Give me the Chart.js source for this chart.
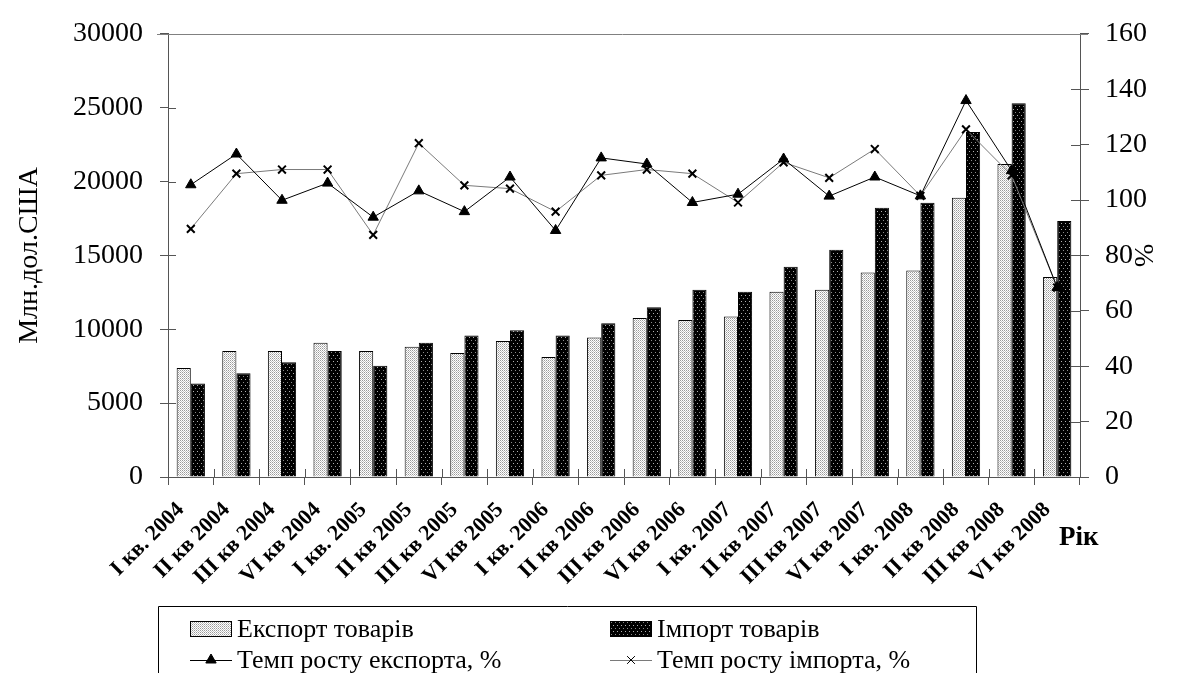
<!DOCTYPE html>
<html>
<head>
<meta charset="utf-8">
<style>
  html, body { margin: 0; padding: 0; background: #fff; }
  #wrap { position: relative; width: 1195px; height: 673px; }
</style>
<script src="https://cdn.jsdelivr.net/npm/chart.js@4.4.1/dist/chart.umd.min.js"></script>
</head>
<body>
<div id="wrap"><canvas id="c" width="1195" height="673"></canvas></div>
<script>
// Quarterly foreign trade in goods, 2004–2008
const quarters = [
  'I кв. 2004', 'II кв 2004', 'III кв 2004', 'VI кв 2004',
  'I кв. 2005', 'II кв 2005', 'III кв 2005', 'VI кв 2005',
  'I кв. 2006', 'II кв 2006', 'III кв 2006', 'VI кв 2006',
  'I кв. 2007', 'II кв 2007', 'III кв 2007', 'VI кв 2007',
  'I кв. 2008', 'II кв 2008', 'III кв 2008', 'VI кв 2008'
];
// Million US dollars
const exportGoods = [7370, 8530, 8530, 9090, 8530, 8820, 8400, 9200, 8130, 9440,
                     10760, 10620, 10870, 12540, 12670, 13850, 13980, 18910, 21180, 13540];
const importGoods = [6330, 7015, 7770, 8530, 7530, 9090, 9575, 9930, 9575, 10400,
                     11490, 12670, 12540, 14230, 15390, 18220, 18570, 23360, 25300, 17330];
// Growth rates, %
const exportGrowth = [105.5, 116.6, 99.9, 106.1, 93.8, 103.3, 95.8, 108.3, 89.0, 115.2,
                      113.0, 99.1, 102.1, 114.8, 101.4, 108.3, 101.5, 135.9, 110.6, 68.4];
const importGrowth = [89.6, 109.5, 111.0, 111.0, 87.4, 120.5, 105.3, 104.1, 95.8, 108.9,
                      111.0, 109.5, 99.1, 113.6, 108.0, 118.4, 101.5, 125.5, 108.9, 68.4];

const leftTicks = { min: 0, max: 30000, step: 5000 };
const rightTicks = { min: 0, max: 160, step: 20 };

const seriesNames = ['Експорт товарів', 'Імпорт товарів',
                     'Темп росту експорта, %', 'Темп росту імпорта, %'];
const leftTitle = 'Млн.дол.США';
const rightTitle = '%';
const xTitle = 'Рік';

const SERIF = '"Liberation Serif", "Times New Roman", serif';
const AXIS = '#555';

// Stipple fills for the bars
function makePattern(w, h, bg, dots) {
  const cv = document.createElement('canvas');
  cv.width = w; cv.height = h;
  const g = cv.getContext('2d');
  g.fillStyle = bg; g.fillRect(0, 0, w, h);
  dots.forEach(d => { g.fillStyle = d[2]; g.fillRect(d[0], d[1], 1, 1); });
  return g.createPattern(cv, 'repeat');
}
const ctx = document.getElementById('c').getContext('2d');
const lightFill = makePattern(2, 2, '#ffffff', [[0, 0, '#9a9a9a'], [1, 1, '#c4c4c4']]);
const darkFill = makePattern(4, 6, '#000000', [[1, 1, '#b0b0b0'], [3, 4, '#8a8a8a']]);

// Cross ticks on the inner side of the axes, the plot's top rule, the year caption and the legend box
const decor = {
  id: 'decor',
  afterDraw(chart) {
    const g = chart.ctx;
    const a = chart.chartArea;
    const sy = chart.scales.y, sy1 = chart.scales.y1, sx = chart.scales.x;
    g.save();
    g.strokeStyle = AXIS;
    g.lineWidth = 1;
    g.beginPath();
    sy.ticks.forEach(t => {
      const p = Math.round(sy.getPixelForValue(t.value)) + 0.5;
      g.moveTo(a.left, p); g.lineTo(a.left + 8, p);
    });
    sy1.ticks.forEach(t => {
      const p = Math.round(sy1.getPixelForValue(t.value)) + 0.5;
      g.moveTo(a.right - 9, p); g.lineTo(a.right, p);
    });
    const half = (sx.getPixelForValue(1) - sx.getPixelForValue(0)) / 2;
    for (let i = 1; i < quarters.length; i++) {
      const p = Math.round(sx.getPixelForValue(i) - half) + 0.5;
      g.moveTo(p, a.bottom - 8); g.lineTo(p, a.bottom);
    }
    g.stroke();

    // top rule
    g.strokeStyle = '#808080';
    g.beginPath();
    g.moveTo(a.left - 11, Math.round(a.top) + 0.5);
    g.lineTo(a.right + 8, Math.round(a.top) + 0.5);
    g.stroke();

    // year caption
    g.fillStyle = '#000';
    g.font = 'bold 27px ' + SERIF;
    g.textAlign = 'left';
    g.textBaseline = 'middle';
    g.fillText(xTitle, 1059, 538);

    // legend box
    g.strokeStyle = '#000';
    g.lineWidth = 1;
    g.beginPath();
    g.moveTo(158.5, 680); g.lineTo(158.5, 606.5); g.lineTo(976.5, 606.5); g.lineTo(976.5, 680);
    g.stroke();

    const ds = chart.data.datasets;
    const cols = [190, 610];
    const rows = [629, 660];
    g.font = '26px ' + SERIF;
    g.textBaseline = 'middle';
    // bar swatches
    [0, 1].forEach(i => {
      const x = cols[i], y = rows[0];
      g.fillStyle = ds[i].backgroundColor;
      g.fillRect(x, y - 8, 42, 16);
      g.strokeStyle = '#000';
      g.strokeRect(x + 0.5, y - 7.5, 41, 15);
      g.fillStyle = '#000';
      g.fillText(ds[i].label, x + 47, y + 1);
    });
    // line swatches
    [2, 3].forEach((i, k) => {
      const x = cols[k], y = rows[1];
      g.strokeStyle = ds[i].borderColor;
      g.lineWidth = 1;
      g.beginPath();
      g.moveTo(x, y + 0.5); g.lineTo(x + 42, y + 0.5);
      g.stroke();
      g.fillStyle = '#000';
      g.strokeStyle = '#000';
      Chart.helpers.drawPoint(g, {
        pointStyle: ds[i].pointStyle, radius: ds[i].pointRadius,
        borderWidth: ds[i].pointBorderWidth, rotation: 0
      }, x + 21, y);
      g.fillStyle = '#000';
      g.fillText(ds[i].label, x + 47, y + 1);
    });
    g.restore();
  }
};

new Chart(ctx, {
  type: 'bar',
  data: {
    labels: quarters,
    datasets: [
      {
        type: 'bar', label: seriesNames[0], data: exportGoods, yAxisID: 'y', order: 2,
        backgroundColor: lightFill, borderColor: '#000', borderWidth: 1,
        categoryPercentage: 0.62, barPercentage: 1.0
      },
      {
        type: 'bar', label: seriesNames[1], data: importGoods, yAxisID: 'y', order: 2,
        backgroundColor: darkFill, borderColor: '#000', borderWidth: 1,
        categoryPercentage: 0.62, barPercentage: 1.0
      },
      {
        type: 'line', label: seriesNames[2], data: exportGrowth, yAxisID: 'y1', order: 0,
        borderColor: '#000', borderWidth: 1, tension: 0,
        pointStyle: 'triangle', pointRadius: 6, pointBorderWidth: 1,
        pointBackgroundColor: '#000', pointBorderColor: '#000'
      },
      {
        type: 'line', label: seriesNames[3], data: importGrowth, yAxisID: 'y1', order: 1,
        borderColor: '#7a7a7a', borderWidth: 1, tension: 0,
        pointStyle: 'crossRot', pointRadius: 5.5, pointBorderWidth: 2,
        pointBackgroundColor: '#000', pointBorderColor: '#000'
      }
    ]
  },
  options: {
    responsive: false,
    animation: false,
    devicePixelRatio: 1,
    layout: { padding: { top: 28, left: 0, right: 0, bottom: 0 } },
    plugins: {
      legend: { display: false },
      tooltip: { enabled: false }
    },
    scales: {
      x: {
        offset: true,
        grid: { display: true, offset: true, drawOnChartArea: false, tickLength: 8, color: AXIS },
        border: { display: true, color: AXIS },
        ticks: {
          color: '#000', font: { family: SERIF, size: 22, weight: 'bold' },
          maxRotation: 45, minRotation: 45, autoSkip: false, padding: 12, labelOffset: -10
        },
        afterFit(s) { s.height = 196; }
      },
      y: {
        position: 'left', min: leftTicks.min, max: leftTicks.max,
        grid: { drawOnChartArea: false, tickLength: 8, color: AXIS },
        border: { display: true, color: AXIS },
        ticks: {
          stepSize: leftTicks.step, color: '#000', padding: 17,
          font: { family: SERIF, size: 28 },
          callback: v => String(v)
        },
        title: {
          display: true, text: leftTitle, color: '#000',
          font: { family: SERIF, size: 28 }, padding: { top: 13, bottom: 0 }
        },
        afterFit(s) { s.width = 168; }
      },
      y1: {
        position: 'right', min: rightTicks.min, max: rightTicks.max,
        grid: { drawOnChartArea: false, tickLength: 9, color: AXIS },
        border: { display: true, color: AXIS },
        ticks: {
          stepSize: rightTicks.step, color: '#000', padding: 16,
          font: { family: SERIF, size: 28 },
          callback: v => String(v)
        },
        title: {
          display: true, text: rightTitle, color: '#000',
          font: { family: SERIF, size: 28 }, padding: { top: 36, bottom: 0 }
        },
        afterFit(s) { s.width = 115; }
      }
    }
  },
  plugins: [decor]
});
</script>
</body>
</html>
